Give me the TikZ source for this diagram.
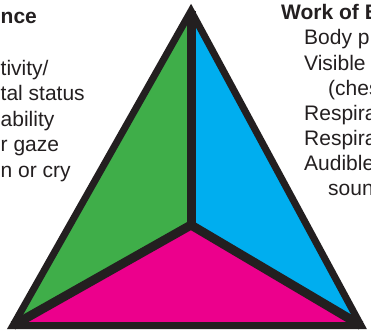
\documentclass[tikz,border=0pt]{standalone}
\usepackage{xcolor}
\usepackage{fontspec}
\setmainfont{Liberation Sans}
\usepackage{tikz}

\definecolor{patgreen}{HTML}{3FAE49}
\definecolor{patblue}{HTML}{00AEEF}
\definecolor{patpink}{HTML}{EC008C}
\definecolor{patblack}{HTML}{231F20}

\begin{document}
\begin{tikzpicture}[x=1pt,y=-1pt]
			\tikzstyle{head} = [anchor=base west, inner sep=0pt, text=patblack, font=\fontsize{21}{25}\selectfont\bfseries]
			\tikzstyle{item} = [anchor=base west, inner sep=0pt, text=patblack, font=\fontsize{21}{25}\selectfont]
			\tikzstyle{side} = [line width=7pt, draw=patblack, line join=miter]
			\tikzset{spoke/.style = {line width=9pt, draw=patblack, line cap=butt}}
			
			\useasboundingbox (0,0) rectangle (371,329);
			
			\coordinate (apex) at (191,11);
			\coordinate (left) at (13,325.5);
			\coordinate (right) at (361,325.5);
			\coordinate (mid) at (191,225);
			
			\fill[patgreen](apex) -- (mid) -- (left) -- cycle;
			\fill[patblue](apex) -- (right) -- (mid) -- cycle;
			\fill[patpink](left) -- (mid) -- (right) -- cycle;
			\draw[spoke](apex) -- (mid);
			\draw[spoke](left) -- (mid);
			\draw[spoke](right) -- (mid);
			\draw[side](apex) -- (left) -- (right) -- cycle;
			
			\node[head](apphead) at (0.5,24) {nce};
			\node[item](app1) at (0.5,75) {tivity/};
			\node[item](app2) at (0.5,100.5) {tal status};
			\node[item](app3) at (0.5,126) {ability};
			\node[item](app4) at (0.5,151.5) {r gaze};
			\node[item](app5) at (0.5,177) {n or cry};
			
			\node[head](wobhead) at (281,19.5) {Work of B};
			\node[item](wob1) at (304,45) {Body p};
			\node[item](wob2) at (304,70) {Visible};
			\node[item](wob3) at (328,95) {(ches};
			\node[item](wob4) at (304,120) {Respira};
			\node[item](wob5) at (304,145) {Respira};
			\node[item](wob6) at (304,170) {Audible};
			\node[item](wob7) at (328,195) {soun};
			
			\end{tikzpicture}
\end{document}
